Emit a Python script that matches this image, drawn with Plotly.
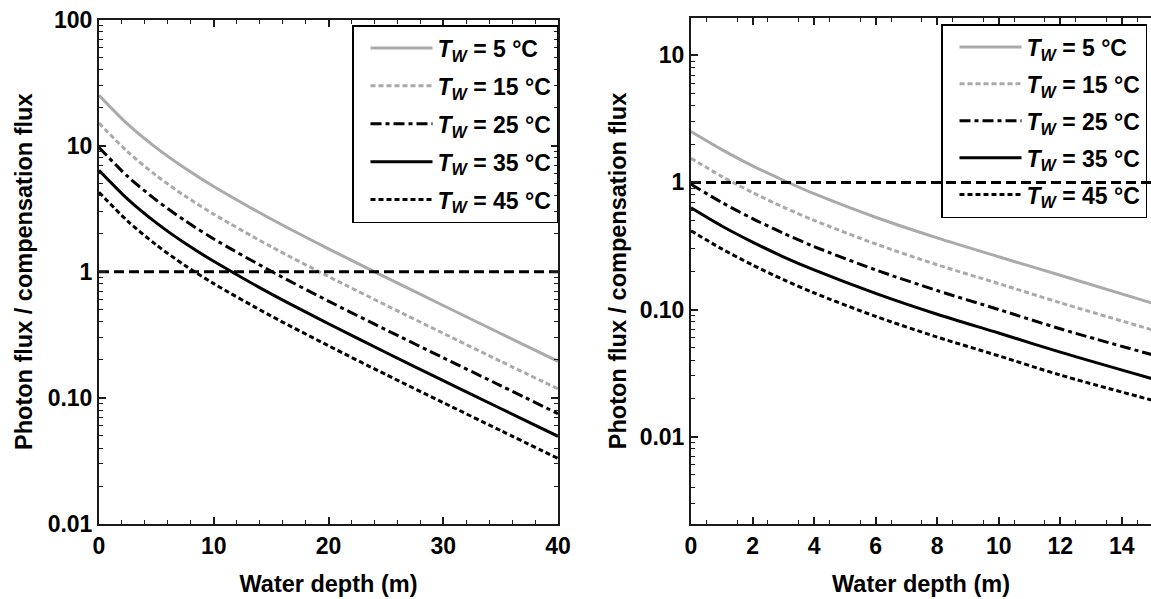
import plotly.graph_objects as go

# ---------------- data ----------------
series_names = ["<i>T</i><sub><i>W</i></sub> = 5 °C",
                "<i>T</i><sub><i>W</i></sub> = 15 °C",
                "<i>T</i><sub><i>W</i></sub> = 25 °C",
                "<i>T</i><sub><i>W</i></sub> = 35 °C",
                "<i>T</i><sub><i>W</i></sub> = 45 °C"]

# Left panel: depth 0-40 m
depth_left = [0, 2.5, 5, 7.5, 10, 15, 20, 25, 30, 35, 40]
left_T5 = [25.1, 14.8, 9.59, 6.61, 4.74, 2.62, 1.52, 0.902, 0.540, 0.324, 0.195]
left_T15 = [15.1, 8.93, 5.78, 3.98, 2.86, 1.58, 0.917, 0.544, 0.325, 0.195, 0.118]
left_T25 = [9.66, 5.70, 3.69, 2.54, 1.82, 1.01, 0.585, 0.347, 0.208, 0.125, 0.075]
left_T35 = [6.38, 3.77, 2.44, 1.68, 1.21, 0.667, 0.387, 0.229, 0.137, 0.0824, 0.0496]
left_T45 = [4.27, 2.52, 1.63, 1.12, 0.805, 0.446, 0.259, 0.153, 0.0917, 0.0551, 0.0331]

# Right panel: depth 0-15 m
depth_right = [0, 1, 2, 3, 4, 6, 8, 10, 12, 15]
right_T5 = [2.51, 1.81, 1.35, 1.04, 0.815, 0.532, 0.366, 0.260, 0.186, 0.112]
right_T15 = [1.55, 1.115, 0.832, 0.639, 0.503, 0.328, 0.225, 0.160, 0.113, 0.0690]
right_T25 = [0.966, 0.696, 0.519, 0.399, 0.313, 0.205, 0.141, 0.100, 0.0705, 0.0440]
right_T35 = [0.631, 0.454, 0.339, 0.260, 0.205, 0.134, 0.0918, 0.0653, 0.0462, 0.0285]
right_T45 = [0.417, 0.300, 0.224, 0.172, 0.135, 0.0883, 0.0607, 0.0432, 0.0305, 0.0193]

compensation_level = 1.0
left_depth_span = [0, 40]
right_depth_span = [0, 15]

left_ytick_vals = [0.01, 0.1, 1, 10, 100]
left_ytick_text = ["0.01", "0.10", "1", "10", "100"]
right_ytick_vals = [0.01, 0.1, 1, 10]
right_ytick_text = ["0.01", "0.10", "1", "10"]

# ---------------- styles ----------------
GRAY = "#aaaaaa"
BLACK = "#000000"
AX = "#1a1a1a"
styles = [
    dict(color=GRAY, width=3, dash="solid"),
    dict(color=GRAY, width=3, dash="5px,3px"),
    dict(color=BLACK, width=3, dash="11px,4px,4px,4px"),
    dict(color=BLACK, width=3, dash="solid"),
    dict(color=BLACK, width=3, dash="5px,3px"),
]
FONT = "Liberation Sans, Arial, sans-serif"

fig = go.Figure()

left_sets = [left_T5, left_T15, left_T25, left_T35, left_T45]
right_sets = [right_T5, right_T15, right_T25, right_T35, right_T45]

for i, (name, ys) in enumerate(zip(series_names, left_sets)):
    fig.add_trace(go.Scatter(x=depth_left, y=ys, mode="lines", name=name,
                             line=dict(shape="spline", smoothing=0.8, **styles[i]),
                             xaxis="x", yaxis="y", legend="legend",
                             legendgroup="L%d" % i))
fig.add_trace(go.Scatter(x=left_depth_span, y=[compensation_level] * 2, mode="lines",
                         line=dict(color=BLACK, width=3, dash="10px,5px"),
                         showlegend=False, xaxis="x", yaxis="y"))

for i, (name, ys) in enumerate(zip(series_names, right_sets)):
    fig.add_trace(go.Scatter(x=depth_right, y=ys, mode="lines", name=name,
                             line=dict(shape="spline", smoothing=0.8, **styles[i]),
                             xaxis="x2", yaxis="y2", legend="legend2",
                             legendgroup="R%d" % i))
fig.add_trace(go.Scatter(x=right_depth_span, y=[compensation_level] * 2, mode="lines",
                         line=dict(color=BLACK, width=3, dash="10px,5px"),
                         showlegend=False, xaxis="x2", yaxis="y2"))

log_minor = [m * 10 ** e for e in range(-3, 2) for m in range(2, 10)]

common_axis = dict(showline=True, linecolor=AX, linewidth=2, ticks="inside",
                   ticklen=7, tickwidth=1.5, tickcolor=AX, showgrid=False,
                   zeroline=False, automargin=False,
                   tickfont=dict(family=FONT, size=23, color=BLACK, weight="bold"))

title_font = dict(family=FONT, size=23.5, color=BLACK, weight="bold")
legend_font = dict(family=FONT, size=23, color=BLACK, weight="bold")

fig.update_layout(
    width=1151, height=599,
    margin=dict(l=0, r=0, t=0, b=0),
    paper_bgcolor="white", plot_bgcolor="white",
    font=dict(family=FONT, size=22, color=BLACK, weight="bold"),
    xaxis=dict(domain=[99 / 1151, 558 / 1151], range=[0, 40], anchor="y",
               tickvals=[0, 10, 20, 30, 40], mirror="ticks",
               minor=dict(tickvals=list(range(2, 40, 2)), ticks="inside",
                          ticklen=4, tickwidth=1, tickcolor=AX, showgrid=False),
               title=dict(text="Water depth (m)", font=title_font, standoff=18),
               **common_axis),
    yaxis=dict(domain=[(599 - 524) / 599, (599 - 19.5) / 599], type="log",
               range=[-2, 2], anchor="x", tickvals=left_ytick_vals,
               ticktext=left_ytick_text, mirror="ticks",
               minor=dict(tickvals=log_minor, ticks="inside", ticklen=4,
                          tickwidth=1, tickcolor=AX, showgrid=False),
               title=dict(text="Photon flux / compensation flux", font=title_font,
                          standoff=8),
               **common_axis),
    xaxis2=dict(domain=[691 / 1151, 1.0], range=[0, 14.95], anchor="y2",
                tickvals=[0, 2, 4, 6, 8, 10, 12, 14], mirror="ticks",
                minor=dict(tickvals=[v / 2 for v in range(1, 30, 2)], ticks="inside",
                           ticklen=4, tickwidth=1, tickcolor=AX, showgrid=False),
                title=dict(text="Water depth (m)", font=title_font, standoff=18),
                **common_axis),
    yaxis2=dict(domain=[(599 - 524.3) / 599, (599 - 17.7) / 599], type="log",
                range=[-2.69, 1.296], anchor="x2", tickvals=right_ytick_vals,
                ticktext=right_ytick_text, mirror=False,
                minor=dict(tickvals=log_minor, ticks="inside", ticklen=4,
                           tickwidth=1, tickcolor=AX, showgrid=False),
                title=dict(text="Photon flux / compensation flux", font=title_font,
                           standoff=6),
                **common_axis),
    yaxis3=dict(overlaying="y2", side="right", anchor="x2", type="log",
                range=[-2.69, 1.296], showline=False, ticks="inside", ticklen=7,
                tickwidth=1.5, tickcolor=AX, showticklabels=False, showgrid=False,
                zeroline=False, automargin=False, tickvals=right_ytick_vals,
                minor=dict(tickvals=log_minor, ticks="inside", ticklen=4,
                           tickwidth=1, tickcolor=AX, showgrid=False)),
    legend=dict(x=558 / 1151, xanchor="right", y=(599 - 25) / 599, yanchor="top",
                bgcolor="rgba(0,0,0,0)", bordercolor=BLACK, borderwidth=1.5,
                font=legend_font, tracegroupgap=5, itemwidth=62, indentation=12),
    legend2=dict(x=1147 / 1151, xanchor="right", y=(599 - 24) / 599, yanchor="top",
                 bgcolor="rgba(0,0,0,0)", bordercolor=BLACK, borderwidth=1.5,
                 font=legend_font, tracegroupgap=4, itemwidth=62, indentation=12),
)

fig.write_html("out.html", config={"displayModeBar": False},
               post_script="document.body.style.margin='0';document.body.style.overflow='hidden';")
